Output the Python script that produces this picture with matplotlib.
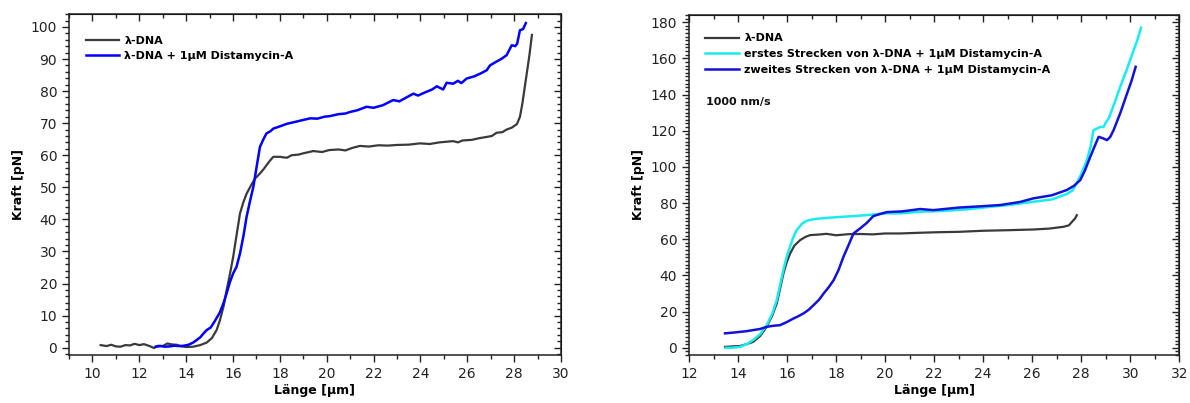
import matplotlib
matplotlib.use("Agg")
import matplotlib.pyplot as plt
from matplotlib.ticker import MultipleLocator

# ---------------- data (left panel) ----------------
L_dna_x = [10.35, 10.6, 10.8, 11.0, 11.2, 11.4, 11.6, 11.8, 12.0, 12.2, 12.4, 12.63, 12.8, 13.0, 13.2, 13.4, 13.6,
           13.8, 14.02, 14.3, 14.6, 14.88, 15.1, 15.3, 15.44, 15.6, 15.73, 15.87, 16.01, 16.15, 16.3, 16.45,
           16.58, 16.8, 16.95, 17.15, 17.3, 17.43, 17.6, 17.72, 18.0, 18.3, 18.5, 18.8, 19.0, 19.43, 19.8,
           20.1, 20.5, 20.8, 21.1, 21.42, 21.8, 22.2, 22.6, 23.0, 23.5, 23.98, 24.4, 24.8, 25.1, 25.4,
           25.6, 25.8, 26.2, 26.5, 26.83, 27.05, 27.25, 27.5, 27.68, 27.9, 28.12, 28.25, 28.35, 28.45,
           28.55, 28.65, 28.76]
L_dna_y = [0.8, 0.5, 0.9, 0.4, 0.3, 0.8, 0.7, 1.2, 0.8, 1.1, 0.6, -0.1, 0.6, 0.5, 1.3, 1.0, 0.9,
           0.4, 0.2, 0.3, 0.8, 1.6, 3.0, 5.5, 8.5, 13.0, 18.0, 23.0, 28.4, 35.0, 41.9, 45.5,
           48.0, 51.0, 52.8, 54.3, 55.6, 56.9, 58.5, 59.5, 59.5, 59.2, 60.0, 60.2, 60.6, 61.3, 61.0,
           61.6, 61.8, 61.5, 62.3, 62.9, 62.7, 63.1, 63.0, 63.2, 63.3, 63.7, 63.5, 64.0, 64.2, 64.4,
           64.0, 64.6, 64.8, 65.3, 65.7, 66.0, 67.0, 67.2, 68.0, 68.6, 69.7, 72.0, 76.0, 81.0,
           86.0, 91.0, 97.5]

L_dist_x = [12.7, 12.9, 13.1, 13.3, 13.5, 13.7, 13.9, 14.1, 14.3, 14.6, 14.75, 14.88, 15.05, 15.2, 15.44, 15.6,
            15.73, 15.87, 16.01, 16.15, 16.3, 16.45, 16.58, 16.72, 16.87, 17.0, 17.15, 17.3, 17.43, 17.6,
            17.72, 18.0, 18.3, 18.6, 19.0, 19.29, 19.6, 19.9, 20.14, 20.5, 20.8, 21.0, 21.3, 21.7, 22.0,
            22.4, 22.84, 23.1, 23.4, 23.7, 23.9, 24.2, 24.5, 24.7, 24.97, 25.12, 25.4, 25.6, 25.75, 25.97,
            26.3, 26.6, 26.83, 26.97, 27.2, 27.45, 27.68, 27.9, 28.05, 28.13, 28.25, 28.38, 28.5]
L_dist_y = [0.3, 0.5, 0.3, 0.4, 0.6, 0.5, 0.6, 0.9, 1.6, 3.2, 4.5, 5.5, 6.3, 8.0, 11.0, 14.0,
            17.0, 20.5, 23.2, 25.2, 29.4, 35.0, 40.8, 45.5, 50.2, 56.0, 62.6, 65.0, 66.8, 67.5,
            68.3, 69.0, 69.8, 70.3, 71.0, 71.5, 71.4, 72.0, 72.2, 72.8, 73.0, 73.5, 74.0, 75.1, 74.8,
            75.6, 77.2, 76.8, 78.0, 79.2, 78.6, 79.6, 80.5, 81.5, 80.5, 82.6, 82.3, 83.2, 82.5, 83.9,
            84.6, 85.6, 86.5, 88.0, 89.0, 90.0, 91.2, 94.3, 94.0, 94.8, 99.0, 99.3, 101.2]

# ---------------- data (right panel) ----------------
R_dna_x = [13.47, 13.8, 14.08, 14.35, 14.62, 14.9, 15.17, 15.4, 15.58, 15.72, 15.85, 15.98, 16.12, 16.3,
           16.53, 16.75, 16.94, 17.3, 17.6, 18.0, 18.5, 19.0, 19.5, 20.0, 20.61, 21.43, 22.2, 23.0,
           24.01, 25.0, 26.05, 26.7, 27.28, 27.5, 27.62, 27.75, 27.82]
R_dna_y = [0.5, 0.8, 1.0, 2.0, 3.3, 6.5, 11.6, 18.0, 24.5, 33.0, 41.0, 47.0, 52.0, 56.5,
           59.5, 61.3, 62.3, 62.6, 63.0, 62.2, 62.8, 62.9, 62.7, 63.2, 63.2, 63.6, 63.9, 64.1,
           64.7, 65.0, 65.4, 65.9, 66.9, 67.7, 69.6, 71.5, 73.3]

R_first_x = [13.5, 13.8, 14.08, 14.35, 14.62, 14.9, 15.17, 15.4, 15.58, 15.72, 15.85, 15.98, 16.12, 16.25,
             16.39, 16.6, 16.8, 17.05, 17.35, 18.0, 18.71, 19.4, 20.07, 20.61, 21.43, 22.3, 23.33,
             24.2, 25.1, 26.05, 26.8, 27.41, 27.65, 27.82, 28.0, 28.23, 28.38, 28.5, 28.65, 28.78,
             28.91, 29.0, 29.12, 29.35, 29.59, 29.85, 30.14, 30.3, 30.44]
R_first_y = [0.0, 0.1, 0.5, 2.0, 4.3, 7.5, 12.5, 19.0, 26.4, 35.0, 43.0, 50.0, 55.8, 61.0,
             65.0, 68.5, 70.2, 71.0, 71.5, 72.2, 72.8, 73.5, 74.3, 74.3, 75.2, 75.6, 76.5,
             77.8, 79.0, 80.7, 82.0, 85.0, 87.0, 91.2, 96.0, 103.7, 111.0, 120.3, 121.2, 122.1,
             122.0, 124.5, 126.8, 135.0, 144.2, 153.5, 164.5, 170.5, 177.0]

R_second_x = [13.47, 13.8, 14.08, 14.35, 14.62, 14.9, 15.17, 15.45, 15.71, 16.0, 16.26, 16.45, 16.67,
              16.88, 17.08, 17.3, 17.49, 17.7, 17.9, 18.1, 18.3, 18.5, 18.71, 18.98, 19.25, 19.52,
              19.8, 20.07, 20.7, 21.43, 21.97, 23.0, 24.0, 24.69, 25.5, 26.05, 26.8, 27.41, 27.7,
              27.96, 28.15, 28.37, 28.55, 28.71, 28.85, 29.05, 29.18, 29.32, 29.6, 29.87, 30.05, 30.22]
R_second_y = [8.0, 8.4, 8.8, 9.2, 9.8, 10.4, 11.6, 12.2, 12.5, 14.3, 16.2, 17.4, 19.0,
              21.0, 23.6, 26.5, 30.0, 33.5, 37.4, 43.0, 50.3, 56.5, 63.2, 66.0, 69.0, 72.8,
              74.0, 75.0, 75.4, 76.7, 76.1, 77.5, 78.3, 78.9, 80.6, 82.6, 84.3, 87.2, 89.5,
              92.7, 98.0, 105.6, 111.5, 116.6, 116.0, 114.8, 116.5, 120.3, 130.0, 140.6, 147.5, 155.3]

xlabel = "Länge [µm]"
ylabel = "Kraft [pN]"
lab_dna = "λ-DNA"
lab_dist = "λ-DNA + 1µM Distamycin-A"
lab_first = "erstes Strecken von λ-DNA + 1µM Distamycin-A"
lab_second = "zweites Strecken von λ-DNA + 1µM Distamycin-A"
speed_text = "1000 nm/s"

plt.rcParams['font.family'] = ['DejaVu Sans']

fig = plt.figure(figsize=(11.9, 4.03), dpi=100)
axL = fig.add_axes([0.058, 0.119, 0.4134, 0.846])
axR = fig.add_axes([0.579, 0.119, 0.412, 0.844])

grey = '#3a3a3a'

axL.plot(L_dna_x, L_dna_y, color=grey, lw=1.6, label=lab_dna)
axL.plot(L_dist_x, L_dist_y, color='#0000ff', lw=1.8, label=lab_dist)

axR.plot(R_dna_x, R_dna_y, color=grey, lw=1.6, label=lab_dna)
axR.plot(R_first_x, R_first_y, color='#19ecf0', lw=1.8, label=lab_first)
axR.plot(R_second_x, R_second_y, color='#1212d8', lw=1.8, label=lab_second)


def style(ax, xlim, ylim, xmaj, ymaj, ymin):
    ax.set_xlim(*xlim)
    ax.set_ylim(*ylim)
    ax.xaxis.set_major_locator(MultipleLocator(xmaj))
    ax.xaxis.set_minor_locator(MultipleLocator(xmaj / 2))
    ax.yaxis.set_major_locator(MultipleLocator(ymaj))
    ax.yaxis.set_minor_locator(MultipleLocator(ymin))
    ax.tick_params(which='both', direction='out', labelsize=10, colors='#222222', width=1.0)
    ax.tick_params(which='major', length=5)
    ax.tick_params(which='minor', length=3)
    for s in ax.spines.values():
        s.set_linewidth(1.1)
        s.set_color('#222222')
    # mirrored ticks pointing inward on top and right
    tx = ax.secondary_xaxis('top')
    tx.xaxis.set_major_locator(MultipleLocator(xmaj))
    tx.xaxis.set_minor_locator(MultipleLocator(xmaj / 2))
    tx.tick_params(which='both', direction='in', labeltop=False, colors='#222222', width=1.0)
    tx.tick_params(which='major', length=5)
    tx.tick_params(which='minor', length=3)
    ty = ax.secondary_yaxis('right')
    ty.yaxis.set_major_locator(MultipleLocator(ymaj))
    ty.yaxis.set_minor_locator(MultipleLocator(ymin))
    ty.tick_params(which='both', direction='in', labelright=False, colors='#222222', width=1.0)
    ty.tick_params(which='major', length=5)
    ty.tick_params(which='minor', length=3)
    ax.set_xlabel(xlabel, fontsize=9, fontweight='bold', labelpad=2)
    ax.set_ylabel(ylabel, fontsize=9, fontweight='bold', labelpad=4)


style(axL, (9, 30), (-2.3, 104), 2, 10, 2)
style(axR, (12, 32), (-4, 184), 2, 20, 2)

axL.legend(loc='upper left', bbox_to_anchor=(0.02, 0.955), frameon=False,
           prop={'size': 8, 'weight': 'bold'}, handlelength=3.0, handletextpad=0.5,
           labelspacing=0.4, borderaxespad=0.2)
axR.legend(loc='upper left', bbox_to_anchor=(0.02, 0.965), frameon=False,
           prop={'size': 8, 'weight': 'bold'}, handlelength=3.0, handletextpad=0.5,
           labelspacing=0.5, borderaxespad=0.2)
axR.text(0.035, 0.744, speed_text, transform=axR.transAxes, fontsize=8, fontweight='bold',
         va='center', ha='left', color='#111111')

fig.savefig('out.png', dpi=100)
